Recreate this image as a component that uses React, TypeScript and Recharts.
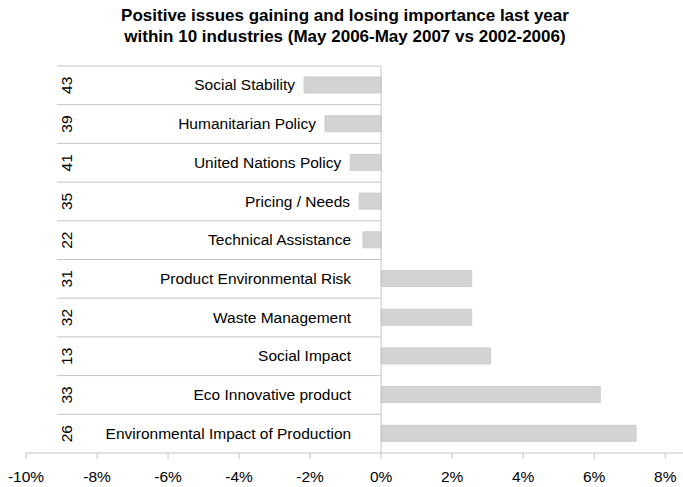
import React from "react";
import { BarChart, Bar, XAxis, YAxis, ReferenceLine, ReferenceDot, LabelList } from "recharts";

const categories = [
  "Social Stability",
  "Humanitarian Policy",
  "United Nations Policy",
  "Pricing / Needs",
  "Technical Assistance",
  "Product Environmental Risk",
  "Waste Management",
  "Social Impact",
  "Eco Innovative product",
  "Environmental Impact of Production",
];
const counts = [43, 39, 41, 35, 22, 31, 32, 13, 33, 26];
const changes = [-2.17, -1.58, -0.87, -0.62, -0.51, 2.55, 2.55, 3.08, 6.17, 7.18];
const xTicks = [-10, -8, -6, -4, -2, 0, 2, 4, 6, 8];
const titleLines = [
  "Positive issues gaining and losing importance last year",
  "within 10 industries (May 2006-May 2007 vs 2002-2006)",
];

const data = categories.map((name, i) => ({ name, count: counts[i], value: changes[i] }));

const FONT = "'Liberation Sans', Arial, sans-serif";
const GRID = "#c4c4c4";
const FS = 15.5;
const ROW_LEFT = -9.13;
const COUNT_X = -8.85;

const NameLabel = (props: any) => {
  const vb = props.viewBox || props;
  const x = Number(vb.x);
  const w = Number(vb.width);
  const y = Number(vb.y);
  const h = Number(vb.height);
  const v = changes[props.index] ?? 0;
  const left = Math.min(x, x + w);
  const right = Math.max(x, x + w);
  const zero = v >= 0 ? left : right;
  const end = Math.min(zero - 30, left - 9);
  return (
    <text x={end} y={y + h / 2} dy="0.35em" textAnchor="end" fontSize={FS} fontFamily={FONT} fill="#000">
      {props.value}
    </text>
  );
};

const makeCountShape = (n: number) => (p: any) => {
  const cx = Number(p.cx);
  const cy = Number(p.cy);
  return (
    <text
      x={cx}
      y={cy}
      transform={`rotate(-90 ${cx} ${cy})`}
      textAnchor="middle"
      dy="0.35em"
      fontSize={FS}
      fontFamily={FONT}
      fill="#000"
    >
      {n}
    </text>
  );
};

export default function App() {
  return (
    <div style={{ position: "absolute", left: 0, top: 0, width: 683, height: 487, background: "#fff" }}>
      <div
        style={{
          position: "absolute",
          left: 0,
          top: 5,
          width: 690,
          textAlign: "center",
          fontFamily: FONT,
          fontWeight: "bold",
          fontSize: 17,
          lineHeight: "21px",
          color: "#000",
        }}
      >
        {titleLines.map((t) => (
          <div key={t}>{t}</div>
        ))}
      </div>
      <BarChart
        width={683}
        height={487}
        data={data}
        layout="vertical"
        margin={{ top: 66, right: 0, bottom: 4, left: 26 }}
        barSize={16}
      >
        <XAxis
          type="number"
          domain={[-10, 8.5]}
          ticks={xTicks}
          interval={0}
          tickFormatter={(v: number) => `${v}%`}
          axisLine={{ stroke: GRID }}
          tickLine={{ stroke: GRID }}
          tickSize={6}
          tickMargin={12}
          height={30}
          tick={{ fontSize: FS, fontFamily: FONT, fill: "#000" }}
        />
        <YAxis type="category" dataKey="name" hide />
        {categories.map((c) => (
          <ReferenceLine
            key={`row-${c}`}
            position="start"
            segment={[
              { x: ROW_LEFT, y: c },
              { x: 0, y: c },
            ]}
            stroke={GRID}
            strokeWidth={1}
          />
        ))}
        <ReferenceLine x={0} stroke={GRID} strokeWidth={1} />
        {categories.map((c, i) => (
          <ReferenceDot key={`cnt-${c}`} x={COUNT_X} y={c} r={1} shape={makeCountShape(counts[i])} />
        ))}
        <Bar dataKey="value" fill="#d3d3d3" stroke="#cccccc" isAnimationActive={false}>
          <LabelList dataKey="name" content={<NameLabel />} />
        </Bar>
      </BarChart>
    </div>
  );
}
